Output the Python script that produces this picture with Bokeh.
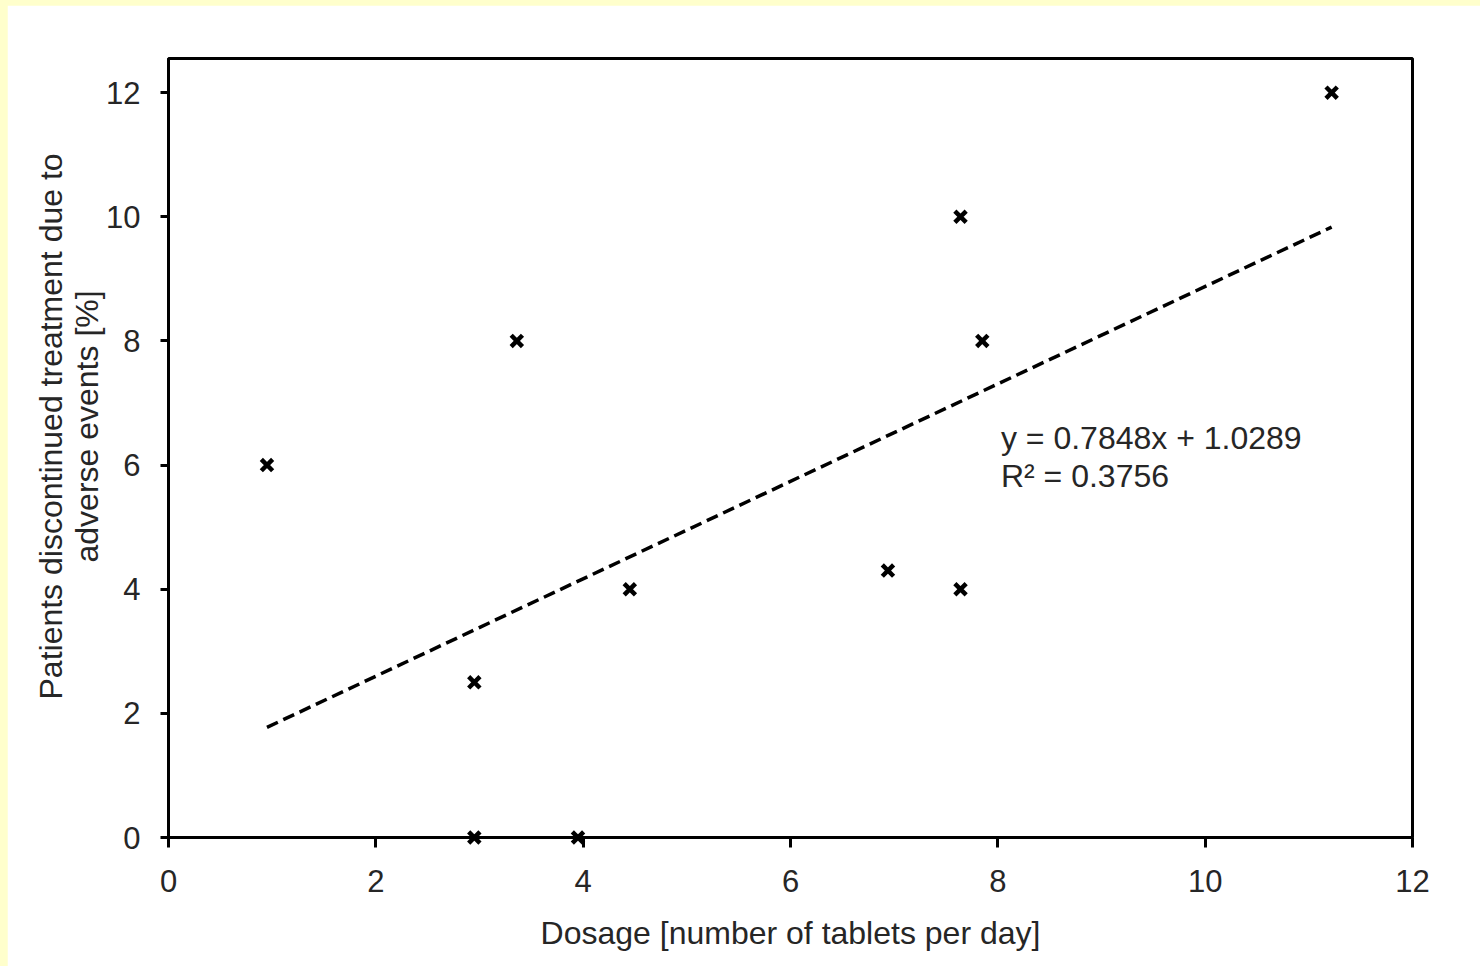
from bokeh.plotting import figure
from bokeh.models import Range1d, FixedTicker, ColumnDataSource, Title
from bokeh.layouts import column
from bokeh.core.properties import value
from bokeh.embed import file_html
from bokeh.resources import INLINE

# ---- data ----
dosage = [0.95, 3.36, 2.95, 2.95, 3.95, 4.45, 6.94, 7.64, 7.64, 7.85, 11.22]
discontinued = [6.0, 8.0, 2.5, 0.0, 0.0, 4.0, 4.3, 10.0, 4.0, 8.0, 12.0]
slope = 0.7848
intercept = 1.0289
r_squared = 0.3756
x_ticks = [0, 2, 4, 6, 8, 10, 12]
y_ticks = [0, 2, 4, 6, 8, 10, 12]
y_title_lines = ["Patients discontinued treatment due to", "adverse events [%]"]
x_title = "Dosage [number of tablets per day]"

FONT = "Liberation Sans"
TXT = "#262626"

p = figure(
    frame_width=1244, frame_height=779,
    min_border_left=161, min_border_right=68, min_border_top=53, min_border_bottom=129,
    x_range=Range1d(0, 12), y_range=Range1d(0, 12.55),
    output_backend="svg", toolbar_location=None,
    background_fill_color="white", border_fill_color="white",
)
p.grid.visible = False
p.outline_line_color = "black"
p.outline_line_width = 3
p.outline_line_alpha = 1.0

for ax, ticks in ((p.xaxis, x_ticks), (p.yaxis, y_ticks)):
    ax.ticker = FixedTicker(ticks=ticks, minor_ticks=[])
    ax.axis_line_color = "black"
    ax.axis_line_width = 3
    ax.major_tick_line_color = "black"
    ax.major_tick_line_width = 3
    ax.major_tick_in = 0
    ax.minor_tick_line_color = None
    ax.major_label_text_font = FONT
    ax.major_label_text_font_size = "31px"
    ax.major_label_text_color = TXT
    ax.axis_label_text_font = FONT
    ax.axis_label_text_font_size = "32px"
    ax.axis_label_text_font_style = "normal"
    ax.axis_label_text_color = TXT

p.xaxis.major_tick_out = 10
p.xaxis.major_label_standoff = 22
p.xaxis.axis_label = x_title
p.xaxis.axis_label_standoff = 20
p.yaxis.major_tick_out = 8
p.yaxis.major_label_standoff = 20

# y-axis title as two stacked side titles (inner line first), shifted up slightly
p.add_layout(Title(text=y_title_lines[1], align="left", offset=275, standoff=-3,
                   text_font=FONT, text_font_size="32px", text_font_style="normal",
                   text_color=TXT), "left")
p.add_layout(Title(text=y_title_lines[0], align="left", offset=138, standoff=0,
                   text_font=FONT, text_font_size="32px", text_font_style="normal",
                   text_color=TXT), "left")

# trend line over the data's x extent
x0, x1 = min(dosage), max(dosage)
trend = ColumnDataSource(dict(x=[x0, x1], y=[slope * x0 + intercept, slope * x1 + intercept]))
p.line("x", "y", source=trend, line_color="black", line_width=3.5, line_dash="12 6")

src = ColumnDataSource(dict(x=dosage, y=discontinued))
p.scatter("x", "y", source=src, marker="x", size=16, line_color="black", line_width=4.5,
          level="overlay")

labels = ColumnDataSource(dict(
    x=[8.03, 8.03],
    y=[6.44, 5.83],
    t=[f"y = {slope}x + {intercept}", f"R\u00b2 = {r_squared}"],
))
p.text("x", "y", text="t", source=labels, text_font=value(FONT), text_font_size="32px",
       text_color=TXT, text_baseline="alphabetic", text_align="left")

layout = column(p, styles={"background-color": "#FFFFCC", "padding-left": "7px", "padding-top": "5px"})

open("out.html", "w").write(file_html(layout, INLINE))
